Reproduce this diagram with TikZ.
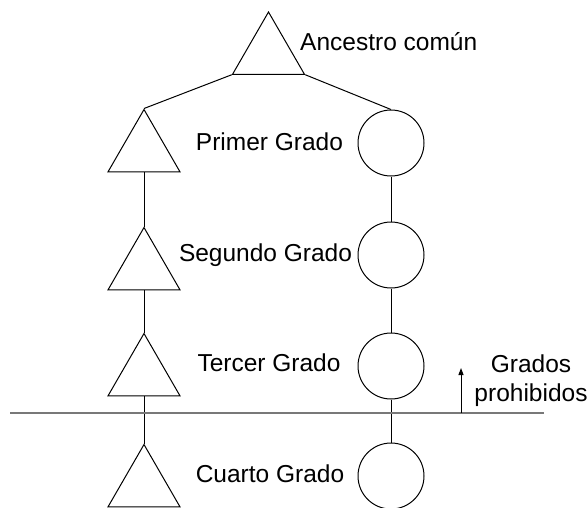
\documentclass[tikz,border=0pt]{standalone}
\usepackage{fontspec}
\setmainfont{Liberation Sans}
\usetikzlibrary{shapes.geometric,arrows.meta}
\begin{document}
\begin{tikzpicture}[x=1pt,y=-1pt,
  male/.style={draw, line width=1pt, regular polygon, regular polygon sides=3,
    minimum size=83pt, inner sep=0pt},
  female/.style={draw, line width=1pt, circle, minimum size=66pt, inner sep=0pt},
  link/.style={line width=1pt},
  label/.style={font=\fontsize{24.5}{29}\selectfont, inner sep=0pt},
  border/.style={line width=1.4pt, draw={rgb,255:red,120;green,120;blue,120}}]
\useasboundingbox (0,0) rectangle (588,507);
\clip (0,0) rectangle (588,507);

% common ancestor
\node[male] (anc) at (268.5,53.5) {};
\node[label, anchor=west] (tanc) at (300,42) {Ancestro común};

% left line of descent
\node[male] (t1) at (144,151) {};
\node[male] (t2) at (144,269) {};
\node[male] (t3) at (144,375) {};
\node[male] (t4) at (144,486) {};

% right line of descent
\node[female] (c1) at (391,143) {};
\node[female] (c2) at (391,255) {};
\node[female] (c3) at (391,366) {};
\node[female] (c4) at (391,476) {};

% degree labels
\node[label] (g1) at (269.5,142) {Primer Grado};
\node[label] (g2) at (265.5,255) {Segundo Grado};
\node[label] (g3) at (269,363) {Tercer Grado};
\node[label] (g4) at (270,474) {Cuarto Grado};

% connectors
\draw[link] (anc.corner 2) -- (t1.corner 1);
\draw[link] (anc.corner 3) -- (c1.north);
\draw[link] (t1.south) -- (t2.corner 1);
\draw[link] (t2.south) -- (t3.corner 1);
\draw[link] (t3.south) -- (t4.corner 1);
\draw[link] (c1.south) -- (c2.north);
\draw[link] (c2.south) -- (c3.north);
\draw[link] (c3.south) -- (c4.north);

% limit of forbidden degrees
\coordinate (lineW) at (10,413);
\coordinate (lineE) at (544,413);
\draw[border] (lineW) -- (lineE);
\coordinate (arrB) at (461,413);
\coordinate (arrT) at (461,368);
\draw[link, -{Triangle[length=7pt,width=5pt]}] (arrB) -- (arrT);
\node[label, align=center] (prohib) at (531,381) {Grados\\prohibidos};
\end{tikzpicture}
\end{document}
